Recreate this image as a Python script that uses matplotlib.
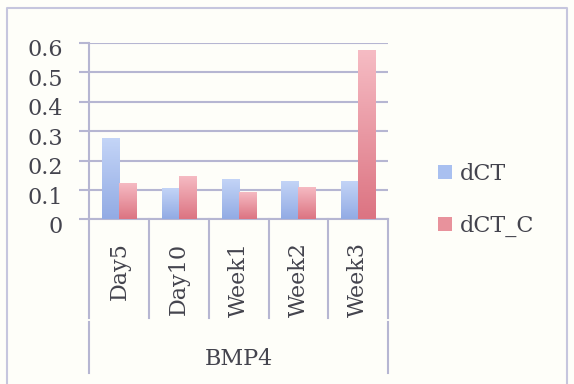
import matplotlib
matplotlib.use("Agg")
import matplotlib.pyplot as plt
import numpy as np
from matplotlib.colors import LinearSegmentedColormap
from matplotlib.patches import Patch
from matplotlib.lines import Line2D
from matplotlib.transforms import ScaledTranslation

categories = ["Day5", "Day10", "Week1", "Week2", "Week3"]
group = "BMP4"
dct = [0.277, 0.108, 0.136, 0.131, 0.132]
dct_c = [0.125, 0.149, 0.094, 0.109, 0.576]
yticks = [0, 0.1, 0.2, 0.3, 0.4, 0.5, 0.6]
ytick_labels = ["0", "0.1", "0.2", "0.3", "0.4", "0.5", "0.6"]

plt.rcParams["font.family"] = ["DejaVu Serif"]
fs = 16
txt = "#44444e"
grid = "#b6b6d2"
bg = "#fefef9"

blue_cm = LinearSegmentedColormap.from_list("b", ["#92abe4", "#c4d5f7"])
red_cm = LinearSegmentedColormap.from_list("r", ["#dc7482", "#f6bcc4"])

fig = plt.figure(figsize=(5.74, 3.84), dpi=100, facecolor=bg)
ax = fig.add_axes([0.1559, 0.4284, 0.520, 0.4604])
ax.set_facecolor(bg)

x = np.arange(len(categories))
w = 0.285
grad = np.linspace(0, 1, 64).reshape(-1, 1)


def gradient_bars(xs, vals, cmap):
    bars = ax.bar(xs, vals, w, color="none", edgecolor="none", zorder=3)
    for b in bars:
        x0, y0 = b.get_x(), b.get_y()
        im = ax.imshow(grad, cmap=cmap, origin="lower", aspect="auto",
                       extent=(x0, x0 + b.get_width(), y0, y0 + b.get_height()),
                       zorder=3)
        im.set_clip_path(b)
    return bars


gradient_bars(x - w / 2, dct, blue_cm)
gradient_bars(x + w / 2, dct_c, red_cm)

ax.set_xlim(-0.5, len(categories) - 0.5)
ax.set_ylim(0, 0.6)
ax.set_yticks(yticks)
ax.set_yticklabels(ytick_labels)
ax.set_xticks([])
ax.yaxis.grid(True, color=grid, lw=1.5, zorder=1)
ax.set_axisbelow(True)
ax.tick_params(axis="y", length=7, width=1.5, color=grid, pad=12,
               labelsize=fs, labelcolor=txt)
# nudge the value labels a little below their gridlines
shift = ScaledTranslation(0, -5 / 100, fig.dpi_scale_trans)
for t in ax.yaxis.get_major_ticks():
    t.label1.set_transform(t.label1.get_transform() + shift)
for s in ["top", "right"]:
    ax.spines[s].set_visible(False)
for s in ["left", "bottom"]:
    ax.spines[s].set_color(grid)
    ax.spines[s].set_linewidth(1.5)

# category labels and divider lines under the axis
tr = ax.get_xaxis_transform()
for i, c in enumerate(categories):
    ax.text(i, -0.13, c, transform=tr, rotation=90, ha="center", va="top",
            fontsize=fs, color=txt)
for b in np.arange(-0.5, len(categories)):
    ax.plot([b, b], [0, -0.557], transform=tr, color=grid, lw=1.5, clip_on=False)
for b in [-0.5, len(categories) - 0.5]:
    ax.plot([b, b], [-0.578, -0.868], transform=tr, color=grid, lw=1.5,
            clip_on=False)
ax.text((len(categories) - 1) / 2, -0.79, group, transform=tr, ha="center",
        va="center", fontsize=fs, color=txt)

handles = [Patch(facecolor="#a9c0f0", label="dCT"),
           Patch(facecolor="#e8929c", label="dCT_C")]
fig.legend(handles=handles, loc="upper left", bbox_to_anchor=(438 / 574, 1 - 163 / 384),
           frameon=False, fontsize=fs, labelcolor=txt, borderpad=0,
           handlelength=0.62, handleheight=0.62, handletextpad=0.35,
           labelspacing=1.35, borderaxespad=0)

# outer chart frame
fig.add_artist(Line2D([7 / 574, 7 / 574, 567 / 574, 567 / 574],
                      [0, 1 - 8 / 384, 1 - 8 / 384, 0],
                      transform=fig.transFigure, color="#c6c6de", lw=1.5))

fig.savefig("out.png", dpi=100, facecolor=bg)
